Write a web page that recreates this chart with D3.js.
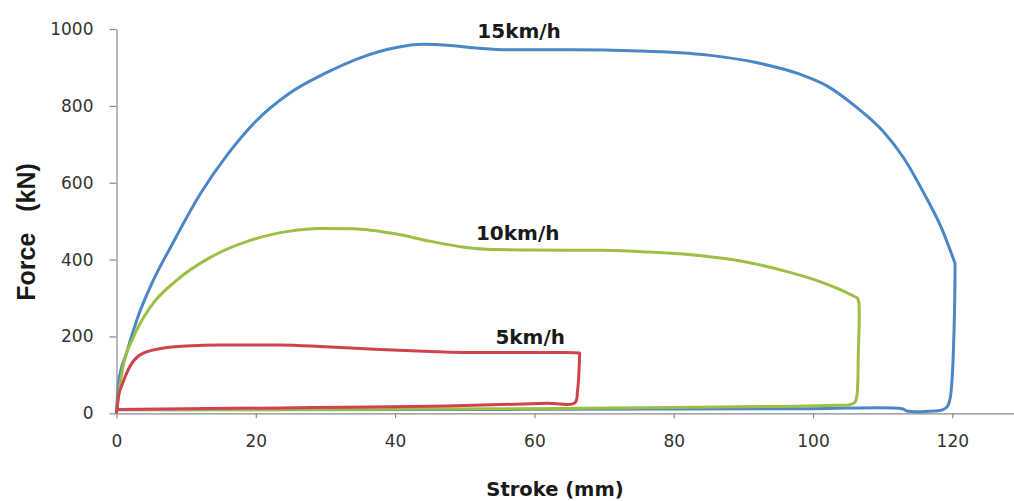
<!DOCTYPE html>
<html>
<head>
<meta charset="utf-8">
<script src="https://cdn.jsdelivr.net/npm/d3@7"></script>
<style>
  body { margin: 0; background: #fff; }
  svg { display: block; }
  .tick text { font-family: "DejaVu Sans", sans-serif; font-size: 17px; fill: #333; }
  .axis path, .axis line { stroke: #8a8a8a; stroke-width: 1.2; }
</style>
</head>
<body>
<svg id="chart" width="1014" height="501"></svg>
<script>
// stroke (mm) / force (kN)
// each loop = loading branch (x increasing) + unloading branch back to 0
const stroke15Up   = [0, 0.3, 1.5, 3, 5, 8, 12, 16, 20, 25, 30, 35, 40, 44, 48, 52, 56, 65, 75, 85, 92, 98, 102, 106, 110, 113, 116, 118.5, 120.4]
const force15Up    = [0, 80, 160, 247, 335, 440, 570, 675, 760, 835, 885, 925, 951, 960, 957, 950, 946, 946, 943, 932, 912, 883, 852, 800, 735, 665, 570, 480, 390]
const stroke15Down = [120.4, 120.3, 120.0, 119.7, 119.3, 118.6, 117.5, 113.5, 112.8, 100, 80, 50, 20, 0.3]
const force15Down  = [390, 250, 100, 40, 18, 9, 6, 6, 12, 12, 11, 10, 9, 9]

const stroke10Up   = [0, 0.2, 0.9, 2.4, 4.8, 8.7, 13.4, 19.2, 24.9, 29, 34, 40, 45, 50, 54, 60, 70, 76, 84, 90, 96, 100.5, 103.5, 106.4]
const force10Up    = [0, 35, 118, 197, 275, 347, 405, 450, 474, 481, 480, 467, 448, 432, 426, 425, 424, 420, 410, 395, 370, 346, 325, 300]
const stroke10Down = [106.4, 106.6, 106.5, 106.3, 106, 105.2, 104, 95, 80, 60, 40, 20, 0.3]
const force10Down  = [300, 285, 150, 45, 28, 22, 21, 18, 15, 12, 11, 10, 10]

const stroke5Up    = [0, 0.3, 0.8, 1.9, 3.4, 6.2, 10, 15, 23.5, 30, 37.8, 45, 52.2, 64.1, 66.5]
const force5Up     = [0, 45, 74, 121, 152, 168, 175, 178, 178, 173, 166, 161, 158, 158, 157]
const stroke5Down  = [66.5, 66.2, 65.8, 61.8, 47.4, 33, 23.5, 10, 0.3]
const force5Down   = [157, 60, 27, 26, 19, 16, 14, 12, 10]

const seriesNames = ["15km/h", "10km/h", "5km/h"]
const xTicks = [0, 20, 40, 60, 80, 100, 120]
const yTicks = [0, 200, 400, 600, 800, 1000]

const colors = ["#4b86c6", "#9cbf45", "#d0434b"]

const svg = d3.select("#chart")

const x = d3.scaleLinear().domain([0, 140]).range([116.5, 1091.6])
const y = d3.scaleLinear().domain([0, 1000]).range([413.3, 29])

svg.append("g")
    .attr("class", "axis")
    .attr("transform", "translate(0," + y(0) + ")")
    .call(d3.axisBottom(x).tickValues(xTicks).tickSize(5).tickPadding(17).tickSizeOuter(0))

svg.append("g")
    .attr("class", "axis")
    .attr("transform", "translate(" + x(0) + ",0)")
    .call(d3.axisLeft(y).tickValues(yTicks).tickFormat(d3.format("d")).tickSize(7).tickPadding(16).tickSizeOuter(0))

let loops = [
    [d3.zip(stroke15Up, force15Up), d3.zip(stroke15Down, force15Down)],
    [d3.zip(stroke10Up, force10Up), d3.zip(stroke10Down, force10Down)],
    [d3.zip(stroke5Up, force5Up), d3.zip(stroke5Down, force5Down)]
]

let lineUp = d3.line()
    .x(d => x(d[0]))
    .y(d => y(d[1]))
    .curve(d3.curveMonotoneX)

let lineDown = d3.line()
    .x(d => x(d[0]))
    .y(d => y(d[1]))
    .curve(d3.curveCatmullRom.alpha(0.5))

loops.forEach((loop, i) => {
    let p = lineUp(loop[0]) + lineDown(loop[1]).replace(/^M/, "L")
    svg.append("path")
        .attr("fill", "none")
        .attr("stroke", colors[i])
        .attr("stroke-width", 3)
        .attr("stroke-linejoin", "round")
        .attr("d", p)
})

// speed labels, placed in data units
const labelAt = [[57.8, 976], [57.6, 451], [59.4, 180]]
svg.selectAll(".speed")
    .data(seriesNames)
    .enter().append("text")
    .attr("class", "speed")
    .attr("x", (d, i) => x(labelAt[i][0]))
    .attr("y", (d, i) => y(labelAt[i][1]))
    .attr("text-anchor", "middle")
    .attr("font-family", "DejaVu Sans, sans-serif")
    .attr("font-weight", "bold")
    .attr("font-size", 20)
    .attr("fill", "#1a1a1a")
    .text(d => d)

svg.append("text")
    .attr("x", 555)
    .attr("y", 496)
    .attr("text-anchor", "middle")
    .attr("font-family", "DejaVu Sans, sans-serif")
    .attr("font-weight", "bold")
    .attr("font-size", 19.5)
    .attr("fill", "#1a1a1a")
    .text("Stroke (mm)")

svg.append("text")
    .attr("transform", "translate(35,232) rotate(-90)")
    .attr("text-anchor", "middle")
    .attr("font-family", "Liberation Sans, sans-serif")
    .attr("font-weight", "bold")
    .attr("font-size", 25)
    .attr("fill", "#1a1a1a")
    .style("white-space", "pre")
    .text("Force   (kN)")
</script>
</body>
</html>
